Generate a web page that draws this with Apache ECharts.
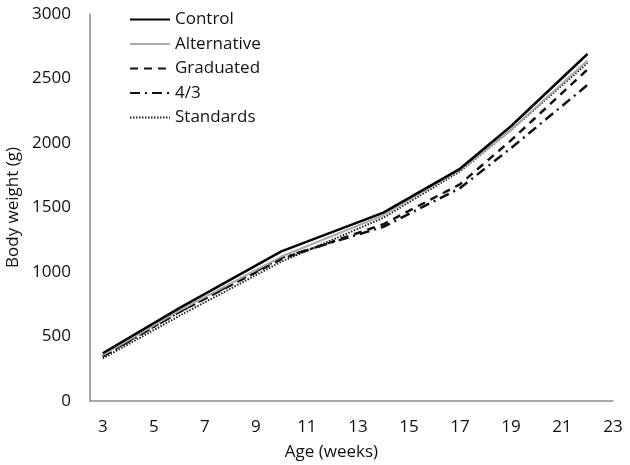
<!DOCTYPE html>
<html>
<head>
<meta charset="utf-8">
<script src="https://cdn.jsdelivr.net/npm/echarts@6/dist/echarts.min.js"></script>
<style>
  html, body { margin: 0; padding: 0; background: #fff; }
  #main { width: 630px; height: 465px; }
</style>
</head>
<body>
<div id="main"></div>
<script>
// data
const weeks = [3, 6, 10, 14, 17, 19, 22];
const control = [370, 720, 1160, 1460, 1800, 2130, 2690];
const alternative = [355, 700, 1120, 1440, 1790, 2100, 2640];
const graduated = [350, 690, 1100, 1370, 1680, 2020, 2570];
const fourThirds = [345, 690, 1110, 1350, 1650, 1960, 2450];
const standards = [330, 660, 1080, 1420, 1780, 2100, 2620];
const xTicks = [3, 5, 7, 9, 11, 13, 15, 17, 19, 21, 23];

const font = 'Open Sans';
const pair = (ys) => weeks.map((w, i) => [w, ys[i]]);

function line(name, ys, color, width, type) {
  return {
    name,
    type: 'line',
    data: pair(ys),
    symbol: 'none',
    lineStyle: { color, width, type },
    itemStyle: { color }
  };
}

const chart = echarts.init(document.getElementById('main'), null, { renderer: 'canvas' });
chart.setOption({
  animation: false,
  textStyle: { fontFamily: font },
  grid: { left: 90, right: 17, top: 14, bottom: 64, containLabel: false, outerBoundsMode: 'none' },
  legend: {
    orient: 'vertical',
    left: 124,
    top: 6,
    itemWidth: 40,
    itemHeight: 14,
    itemGap: 7.5,
    itemStyle: { opacity: 0 },
    textStyle: { fontFamily: font, fontSize: 17, color: '#111', lineHeight: 17 },
    data: ['Control', 'Alternative', 'Graduated', '4/3', 'Standards']
  },
  xAxis: {
    type: 'value',
    min: 2.5,
    max: 23,
    name: 'Age (weeks)',
    nameLocation: 'middle',
    nameGap: 43,
    nameTextStyle: { fontFamily: font, fontSize: 17, color: '#111', padding: [0, 40, 0, 0] },
    axisLine: { show: true, lineStyle: { color: '#8a8a8a', width: 1.5 } },
    axisTick: { show: false },
    splitLine: { show: false },
    axisLabel: {
      customValues: xTicks,
      margin: 18,
      fontFamily: font,
      fontSize: 17,
      color: '#111'
    }
  },
  yAxis: {
    type: 'value',
    min: 0,
    max: 3000,
    interval: 500,
    name: 'Body weight (g)',
    nameLocation: 'middle',
    nameGap: 67,
    nameTextStyle: { fontFamily: font, fontSize: 17, color: '#111' },
    axisLine: { show: true, lineStyle: { color: '#8a8a8a', width: 1.5 } },
    axisTick: { show: false },
    splitLine: { show: false },
    axisLabel: {
      margin: 19,
      fontFamily: font,
      fontSize: 17,
      color: '#111',
      formatter: (v) => String(v)
    }
  },
  series: [
    line('Standards', standards, '#222', 2, [1.5, 1.5]),
    line('4/3', fourThirds, '#111', 2.5, [10, 5, 2, 5]),
    line('Graduated', graduated, '#111', 2.5, [8, 6]),
    line('Alternative', alternative, '#ababab', 2, 'solid'),
    line('Control', control, '#000', 2.5, 'solid')
  ]
});
</script>
</body>
</html>
